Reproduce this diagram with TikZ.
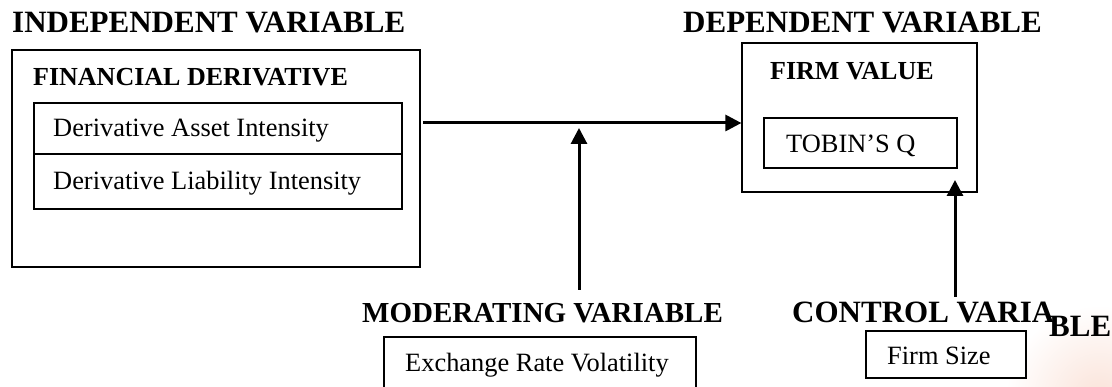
\documentclass[tikz,border=0pt]{standalone}
\usepackage{fontspec}
\setmainfont{Liberation Serif}
\usetikzlibrary{arrows.meta}
\definecolor{tint}{RGB}{250,226,216}
\tikzset{
  title/.style={anchor=base west, inner sep=0pt, font=\fontsize{31}{31}\selectfont\bfseries},
  midtitle/.style={anchor=base west, inner sep=0pt, font=\fontsize{29}{29}\selectfont\bfseries},
  subtitle/.style={anchor=base west, inner sep=0pt, font=\fontsize{26}{26}\selectfont\bfseries},
  item/.style={anchor=base west, inner sep=0pt, font=\fontsize{26.4}{26.4}\selectfont},
  frame/.style={draw, line width=1.2pt, rectangle, inner sep=0pt},
  link/.style={line width=3pt, -{Triangle[length=16pt,width=16pt]}}
}
\begin{document}
\begin{tikzpicture}[x=1pt,y=-1pt]
\useasboundingbox (0,0) rectangle (1112,387);
\clip (0,0) rectangle (1112,387);

% soft tint in the lower right corner
\shade[inner color=tint, outer color=white] (1100,400) circle (95);

% independent variable block
\node[title] (indT) at (12,33) {INDEPENDENT VARIABLE};
\node[frame, minimum width=408pt, minimum height=217pt] (ind) at (216,158.5) {};
\node[subtitle] (fin) at (33,86) {FINANCIAL DERIVATIVE};
\node[frame, minimum width=368pt, minimum height=51pt] (dai) at (218,128.5) {};
\node[frame, minimum width=368pt, minimum height=55pt] (dli) at (218,181.5) {};
\node[item] (daiT) at (53,137) {Derivative Asset Intensity};
\node[item] (dliT) at (53,190) {Derivative Liability Intensity};

% dependent variable block
\node[title] (depT) at (683,33) {DEPENDENT VARIABLE};
\node[frame, fill=white, minimum width=235pt, minimum height=149pt] (fv) at (859.5,117.5) {};
\node[subtitle] (fvT) at (770,80) {FIRM VALUE};
\node[frame, minimum width=193pt, minimum height=50pt] (tq) at (860.5,143) {};
\node[item] (tqT) at (786,153) {TOBIN’S Q};

% moderating variable
\node[midtitle] (modT) at (362,323) {MODERATING VARIABLE};
\node[frame, minimum width=312pt, minimum height=70pt] (erv) at (540,372) {};
\node[item] (ervT) at (405,372) {Exchange Rate Volatility};

% control variable
\node[title] (ctlT) at (792,323) {CONTROL VARIA};
\node[title] (ctlT2) at (1049,337) {BLE};
\node[frame, fill=white, minimum width=160pt, minimum height=47pt] (fs) at (946,354.5) {};
\node[item] (fsT) at (887,365) {Firm Size};

% connectors
\coordinate (start) at (423,123);
\draw[link] (start) -- (fv.west |- start);
\coordinate (modFoot) at (579,290);
\coordinate (modTip) at (579,128);
\draw[link] (modFoot) -- (modTip);
\coordinate (ctlFoot) at (955,297);
\coordinate (ctlTip) at (955,180);
\draw[link] (ctlFoot) -- (ctlTip);
\end{tikzpicture}
\end{document}
